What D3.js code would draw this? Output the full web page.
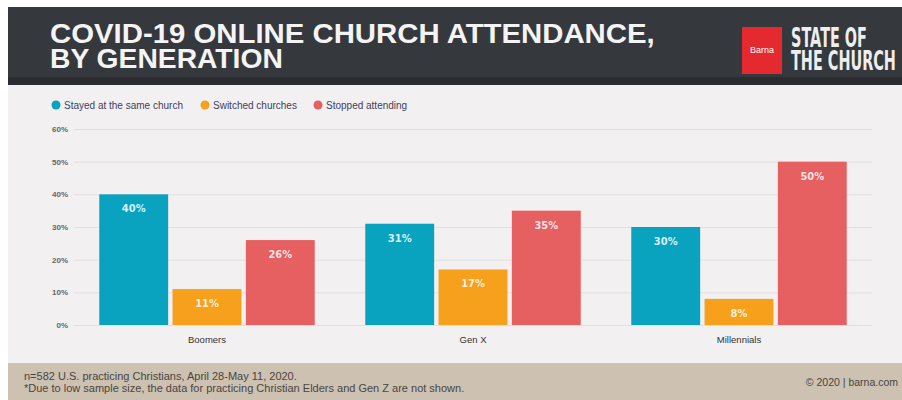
<!DOCTYPE html>
<html>
<head>
<meta charset="utf-8">
<script src="https://cdn.jsdelivr.net/npm/d3@7"></script>
<style>
  body { margin: 0; background: #fff; }
  svg { display: block; }
</style>
</head>
<body>
<svg width="902" height="400"></svg>
<script>
// values, percent
const generations = ["Boomers", "Gen X", "Millennials"];
const seriesNames = ["Stayed at the same church", "Switched churches", "Stopped attending"];
const stayed = [40, 31, 30];
const switched = [11, 17, 8];
const stopped = [26, 35, 50];
const yTicks = [0, 10, 20, 30, 40, 50, 60];

const colors = ["#0aa3bf", "#f6a01c", "#e65f61"];
const seriesValues = [stayed, switched, stopped];

const svg = d3.select("svg"),
    width = +svg.attr("width"),
    height = +svg.attr("height");

// squeeze a text horizontally to a given width (condensed look)
function fitWidth(sel, x, w) {
    sel.each(function () {
        const natural = this.getComputedTextLength();
        const k = w / natural;
        d3.select(this).attr("x", 0)
            .attr("transform", `translate(${x},0) scale(${k},1)`);
    });
}

// backgrounds
svg.append("rect").attr("x", 8).attr("y", 7).attr("width", width - 8).attr("height", 78).attr("fill", "#2a2c30");
svg.append("rect").attr("x", 8).attr("y", 7).attr("width", width - 8).attr("height", 70).attr("fill", "#35383d");
svg.append("rect").attr("x", 8).attr("y", 85).attr("width", width - 8).attr("height", 278).attr("fill", "#f3f0f1");
svg.append("rect").attr("x", 8).attr("y", 363).attr("width", width - 8).attr("height", 37).attr("fill", "#cdc1b2");

// title
const titleLines = [["COVID-19 ONLINE CHURCH ATTENDANCE,", 43, 605], ["BY GENERATION", 68, 233]];
svg.append("g").selectAll("text")
    .data(titleLines)
    .join("text")
    .attr("y", d => d[1])
    .attr("fill", "#f4f4f4")
    .attr("font-family", "Liberation Sans, Arial, sans-serif")
    .attr("font-weight", "bold")
    .attr("font-size", 27)
    .text(d => d[0])
    .each(function (d) { fitWidth(d3.select(this), 50, d[2]); });

// logo
svg.append("rect").attr("x", 742).attr("y", 27).attr("width", 40).attr("height", 47).attr("fill", "#e42a2f");
svg.append("text").attr("x", 762).attr("y", 53).attr("text-anchor", "middle")
    .attr("fill", "#fff").attr("font-family", "Liberation Sans, Arial, sans-serif")
    .attr("font-size", 9).text("Barna");
const logoLines = [["STATE OF", 47, 76], ["THE CHURCH", 70, 105]];
svg.append("g").selectAll("text")
    .data(logoLines)
    .join("text")
    .attr("y", d => d[1])
    .attr("fill", "#eeeeee")
    .attr("font-family", "DejaVu Sans, sans-serif")
    .attr("font-weight", "bold")
    .attr("font-size", 26)
    .text(d => d[0])
    .each(function (d) { fitWidth(d3.select(this), 791, d[2]); });

// scales
const x0 = d3.scaleBand().domain(generations).range([74, 872]).paddingInner(0.19).paddingOuter(0.095);
const x1 = d3.scaleBand().domain(seriesNames).range([0, x0.bandwidth()]).paddingInner(0.06);
const y = d3.scaleLinear().domain([0, 60]).range([325, 129]);

// grid + y axis
const yAxis = d3.axisLeft(y).tickValues(yTicks).tickFormat(d => d + "%").tickSize(-(872 - 74)).tickPadding(6);
const gy = svg.append("g").attr("transform", "translate(74,0)").call(yAxis);
gy.select(".domain").remove();
gy.selectAll(".tick line").attr("stroke", "#e3dfe0").attr("stroke-width", 1);
gy.selectAll(".tick text").attr("fill", "#666").attr("font-family", "Liberation Sans, Arial, sans-serif")
    .attr("font-size", 8).attr("font-weight", "bold");

// bars
const groups = svg.append("g").selectAll("g")
    .data(generations)
    .join("g")
    .attr("transform", d => `translate(${x0(d)},0)`);

groups.selectAll("rect")
    .data((d, i) => seriesNames.map((s, j) => ({ s: s, v: seriesValues[j][i], c: colors[j] })))
    .join("rect")
    .attr("x", d => x1(d.s))
    .attr("y", d => y(d.v))
    .attr("width", x1.bandwidth())
    .attr("height", d => y(0) - y(d.v))
    .attr("fill", d => d.c);

groups.selectAll("text.val")
    .data((d, i) => seriesNames.map((s, j) => ({ s: s, v: seriesValues[j][i] })))
    .join("text")
    .attr("class", "val")
    .attr("x", d => x1(d.s) + x1.bandwidth() / 2)
    .attr("y", d => y(d.v) + 18)
    .attr("text-anchor", "middle")
    .attr("fill", "#fff")
    .attr("fill-opacity", 0.85)
    .attr("font-family", "DejaVu Sans, sans-serif")
    .attr("font-stretch", "condensed")
    .attr("font-weight", "bold")
    .attr("font-size", 11)
    .text(d => d.v + "%");

// x axis labels
const xAxis = d3.axisBottom(x0).tickSize(0).tickPadding(9);
const gx = svg.append("g").attr("transform", "translate(0,327)").call(xAxis);
gx.select(".domain").remove();
gx.selectAll(".tick text").attr("fill", "#333").attr("font-family", "Liberation Sans, Arial, sans-serif")
    .attr("font-size", 9.5);

// legend
const legend = svg.append("g").selectAll("g")
    .data(seriesNames)
    .join("g");
const legendX = [56, 205, 318];
legend.append("circle")
    .attr("cx", (d, i) => legendX[i])
    .attr("cy", 105)
    .attr("r", 4.5)
    .attr("fill", (d, i) => colors[i]);
legend.append("text")
    .attr("x", (d, i) => legendX[i] + 8)
    .attr("y", 108.5)
    .attr("fill", "#3d4160")
    .attr("font-family", "Liberation Sans, Arial, sans-serif")
    .attr("font-size", 10)
    .text(d => d);

// footer
const foot = svg.append("text")
    .attr("fill", "#4a4540")
    .attr("font-family", "Liberation Sans, Arial, sans-serif")
    .attr("font-size", 11);
foot.append("tspan").attr("x", 24).attr("y", 380).text("n=582 U.S. practicing Christians, April 28-May 11, 2020.");
foot.append("tspan").attr("x", 24).attr("y", 392).text("*Due to low sample size, the data for practicing Christian Elders and Gen Z are not shown.");
svg.append("text")
    .attr("x", 898).attr("y", 386).attr("text-anchor", "end")
    .attr("fill", "#4a4540")
    .attr("font-family", "Liberation Sans, Arial, sans-serif")
    .attr("font-size", 10.5)
    .text("© 2020 | barna.com");
</script>
</body>
</html>
